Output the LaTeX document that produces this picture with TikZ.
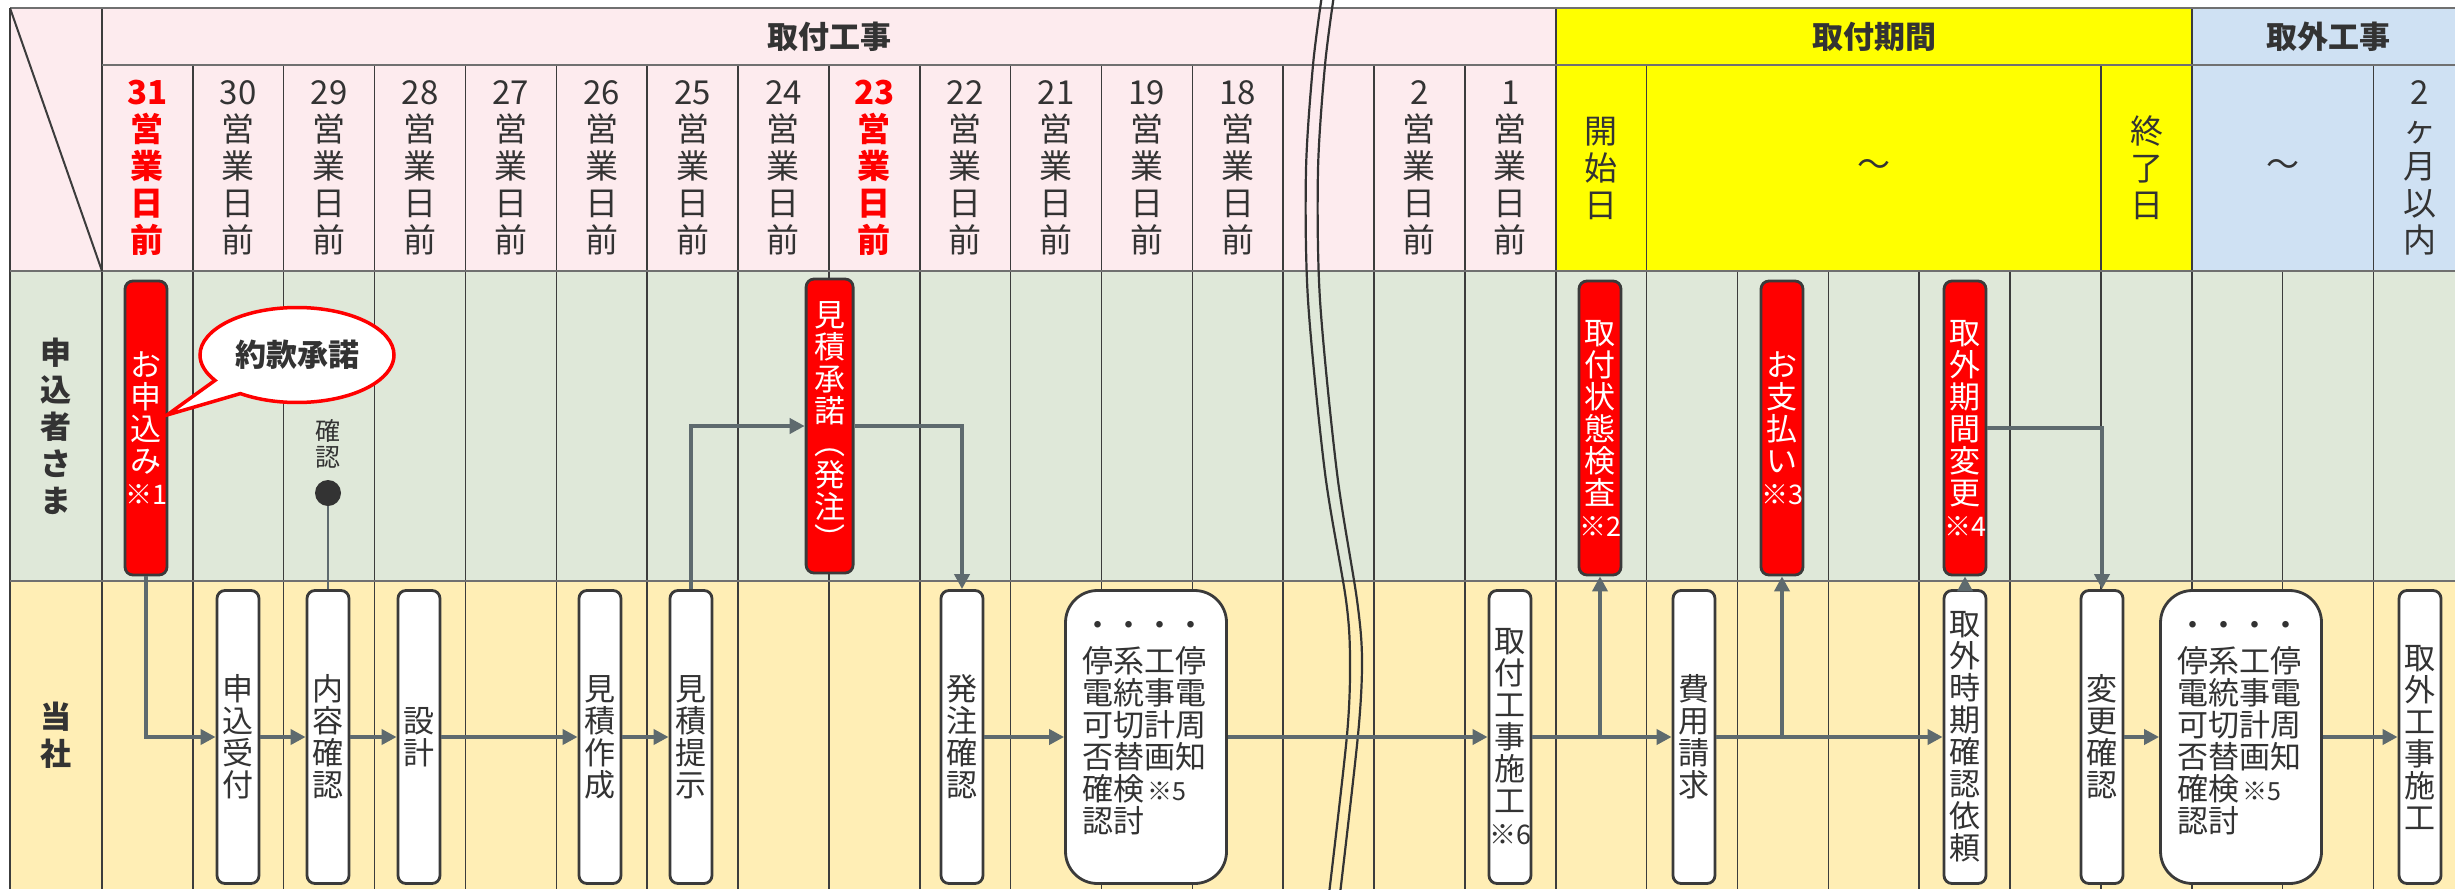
\documentclass[tikz,border=0pt]{standalone}
\usepackage{fontspec}
\setmainfont{Noto Sans CJK JP}
\usetikzlibrary{arrows.meta,shapes.callouts,calc}
\definecolor{pinkbg}{HTML}{FDEBEE}
\definecolor{greenbg}{HTML}{DFE8D9}
\definecolor{ylwbg}{HTML}{FFEEB5}
\definecolor{bluebg}{HTML}{CFE1F3}
\definecolor{hdyellow}{HTML}{FFFF00}
\definecolor{txt}{HTML}{333333}
\definecolor{gridc}{HTML}{3C3C3C}
\definecolor{rowc}{HTML}{707070}
\definecolor{connc}{HTML}{5E6A6E}
\definecolor{boxline}{HTML}{3A3A3A}
\definecolor{redf}{HTML}{FF0000}
\tikzset{
  hd/.style={font=\fontsize{33}{37}\selectfont, text=txt, align=center, inner sep=0},
  hdred/.style={font=\fontsize{33}{37}\selectfont\bfseries, text=redf, align=center, inner sep=0},
  ttl/.style={font=\fontsize{31}{34}\selectfont\bfseries, text=txt, inner sep=0},
  rowlbl/.style={font=\fontsize{31}{37}\selectfont\bfseries, text=txt, align=center, inner sep=0},
  redbox/.style={rectangle, rounded corners=8pt, fill=redf, draw=boxline, line width=2.8pt, minimum width=42pt, minimum height=294pt, inner sep=0, text=white, font=\fontsize{31}{32}\selectfont, align=center},
  whitebox/.style={rectangle, rounded corners=8pt, fill=white, draw=boxline, line width=2.8pt, minimum width=42pt, minimum height=293pt, inner sep=0, text=txt, font=\fontsize{31}{32}\selectfont, align=center},
  bigbox/.style={rectangle, rounded corners=32pt, fill=white, draw=boxline, line width=2.8pt, minimum width=161pt, minimum height=293pt, inner sep=0},
  bigtext/.style={font=\fontsize{31}{32}\selectfont, text=txt, align=left, inner sep=0, anchor=north west},
  gridv/.style={draw=gridc, line width=1.5pt},
  rowline/.style={draw=rowc, line width=2.4pt},
  brk/.style={draw=txt, line width=2.2pt},
  flow/.style={draw=connc, line width=4pt, -{Triangle[length=15pt,width=15pt]}}
}
\newcommand{\smk}[1]{{\fontsize{27}{28}\selectfont #1}}
\newcommand{\smkb}[1]{{\fontsize{25}{26}\selectfont #1}}
\begin{document}
\begin{tikzpicture}[x=1pt,y=-1pt]
\useasboundingbox (0,0) rectangle (2455,889);
\clip (0,0) rectangle (2455,889);
\fill[white] (0,0) rectangle (2455,889);
% backgrounds
\fill[pinkbg] (10,8) rectangle (1555.8,271);
\fill[hdyellow] (1555.8,8) rectangle (2192,271);
\fill[bluebg] (2192,8) rectangle (2470,271);
\fill[greenbg] (10,271) rectangle (2470,581);
\fill[ylwbg] (10,581) rectangle (2470,889);
% grid
\foreach \k in {1,...,15} \draw[gridv] ({102+90.86*\k},65) -- ({102+90.86*\k},889);
\foreach \k in {16,23} \draw[gridv] ({102+90.86*\k},8) -- ({102+90.86*\k},889);
\foreach \k in {17,22,25} \draw[gridv] ({102+90.86*\k},65) -- ({102+90.86*\k},889);
\foreach \k in {18,19,20,21,24} \draw[gridv] ({102+90.86*\k},271) -- ({102+90.86*\k},889);
\draw[gridv] (102,8) -- (102,889);
\draw[gridv,line width=2pt] (10,8) -- (10,889);
\draw[rowline] (102,65) -- (2470,65);
\draw[rowline] (10,271) -- (2470,271);
\draw[rowline] (10,581) -- (2470,581);
\draw[rowline] (10,8) -- (2470,8);
\draw[gridc,line width=2pt] (10,8) -- (102,271);
% break lines
\draw[brk] plot[smooth] coordinates {(1322,-5) (1313,65) (1306,170) (1308,300) (1325,473) (1346,600) (1350,660) (1347,735) (1329,894)};
\draw[brk] plot[smooth] coordinates {(1334,-5) (1325,65) (1318,170) (1320,300) (1337,473) (1357,600) (1362,660) (1358,735) (1340,894)};
% titles
\node[ttl] (t1) at (829,36.5) {取付工事};
\node[ttl] (t2) at (1874,36.5) {取付期間};
\node[ttl] (t3) at (2328,36.5) {取外工事};
% header cells
\foreach \k/\n in {0/31,8/23}
  \node[hdred] (h\k) at ({147.43+90.86*\k},168) {\n\\営\\業\\日\\前};
\foreach \k/\n in {1/30,2/29,3/28,4/27,5/26,6/25,7/24,9/22,10/21,11/19,12/18,14/2,15/1}
  \node[hd] (h\k) at ({147.43+90.86*\k},168) {\n\\営\\業\\日\\前};
\node[hd] (hstart) at (1601.2,168) {開\\始\\日};
\node[hd] (hwave1) at (1874,168) {〜};
\node[hd] (hend) at (2146.5,168) {終\\了\\日};
\node[hd] (hwave2) at (2283,168) {〜};
\node[hd] (hlimit) at (2419.5,168) {2\\ヶ\\月\\以\\内};
% row labels
\node[rowlbl] (rl1) at (56,426) {申\\込\\者\\さ\\ま};
\node[rowlbl] (rl2) at (56,735) {当\\社};
% customer boxes
\node[redbox] (moshikomi) at (146,428) {お\\申\\込\\み\\\smk{※1}};
\node[redbox, minimum width=47pt] (shonin) at (829.6,426) {見\\積\\承\\諾\\︵\\発\\注\\︶};
\node[redbox] (kensa) at (1600,428) {取\\付\\状\\態\\検\\査\\\smk{※2}};
\node[redbox] (shiharai) at (1782,428) {お\\支\\払\\い\\\smk{※3}};
\node[redbox] (kikan) at (1965,428) {取\\外\\期\\間\\変\\更\\\smk{※4}};
% confirm dot
\node[font=\fontsize{25}{26}\selectfont, text=txt, align=center, inner sep=0] (kakunin) at (328,444) {確\\認};
\node[circle, fill=txt, minimum size=26pt, inner sep=0] (dot) at (328,493) {};
% company boxes
\node[whitebox] (uketsuke) at (238,737) {申\\込\\受\\付};
\node[whitebox] (naiyo) at (328,737) {内\\容\\確\\認};
\node[whitebox] (sekkei) at (419,737) {設\\計};
\node[whitebox] (sakusei) at (600,737) {見\\積\\作\\成};
\node[whitebox] (teiji) at (691,737) {見\\積\\提\\示};
\node[whitebox] (hatchu) at (962,737) {発\\注\\確\\認};
\node[bigbox] (big1) at (1146,737) {};
\node[bigtext] (big1t) at (1082,613.6) {\strut・・・・\\停系工停\\電統事電\\可切計周\\否替画知\\確検\hspace{3pt}\smkb{※5}\\認討};
\node[whitebox] (toritsuke) at (1510,737) {取\\付\\工\\事\\施\\工\\\smk{※6}};
\node[whitebox] (hiyo) at (1694,737) {費\\用\\請\\求};
\node[whitebox] (jiki) at (1965,737) {取\\外\\時\\期\\確\\認\\依\\頼};
\node[whitebox] (henko) at (2102,737) {変\\更\\確\\認};
\node[bigbox] (big2) at (2241,737) {};
\node[bigtext] (big2t) at (2177,613.6) {\strut・・・・\\停系工停\\電統事電\\可切計周\\否替画知\\確検\hspace{3pt}\smkb{※5}\\認討};
\node[whitebox] (torihazushi) at (2420,737) {取\\外\\工\\事\\施\\工};
% flows
\draw[connc, line width=2pt] (dot) -- (naiyo.north);
\draw[flow] (moshikomi.south) |- (uketsuke.west);
\draw[flow] (uketsuke.east) -- (naiyo.west);
\draw[flow] (naiyo.east) -- (sekkei.west);
\draw[flow] (sekkei.east) -- (sakusei.west);
\draw[flow] (sakusei.east) -- (teiji.west);
\draw[flow] (teiji.north) |- (shonin.west);
\draw[flow] (shonin.east) -| (hatchu.north);
\draw[flow] (hatchu.east) -- (big1.west);
\draw[flow] (big1.east) -- (toritsuke.west);
\draw[flow] (toritsuke.east) -- (hiyo.west);
\draw[flow] (kensa.south |- toritsuke.east) -- (kensa.south);
\draw[flow] (hiyo.east) -- (jiki.west);
\draw[flow] (shiharai.south |- hiyo.east) -- (shiharai.south);
\draw[flow] (jiki.north) -- (kikan.south);
\draw[flow] (kikan.east) -| (henko.north);
\draw[flow] (henko.east) -- (big2.west);
\draw[flow] (big2.east) -- (torihazushi.west);
% callout
\node[ellipse callout, draw=redf, line width=3.5pt, fill=white, minimum width=194pt, minimum height=95pt, inner sep=0, callout absolute pointer={(167,415)}, callout pointer arc=22, font=\fontsize{31}{34}\selectfont\bfseries, text=txt] (yakkan) at (297,355) {約款承諾};
\end{tikzpicture}
\end{document}
